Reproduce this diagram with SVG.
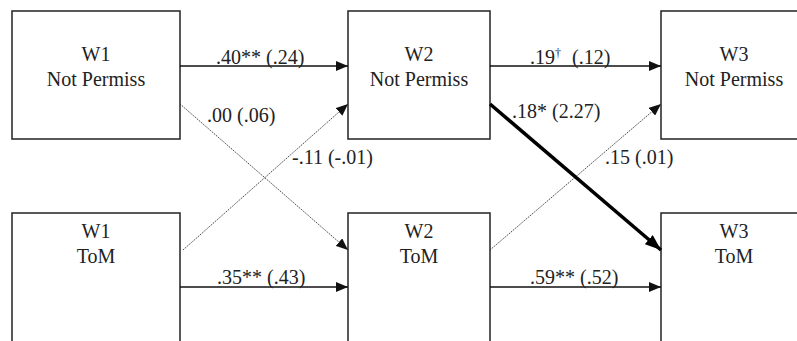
<svg xmlns="http://www.w3.org/2000/svg" width="797" height="341" viewBox="0 0 797 341">
<style>
.box{fill:#fff;stroke:#222;stroke-width:1.5}
.solid{stroke:#111;stroke-width:1.6;fill:none}
.thin{stroke:#333;stroke-width:0.9;stroke-dasharray:1.5 1;fill:none}
.thick{stroke:#000;stroke-width:3.5;fill:none}
</style>
<defs>
<marker id="ah" markerUnits="userSpaceOnUse" markerWidth="12" markerHeight="10" refX="12" refY="5" orient="auto">
<path d="M0,0 L12,5 L0,10 Z" fill="#111"/>
</marker>
<marker id="ahb" markerUnits="userSpaceOnUse" markerWidth="16" markerHeight="12" refX="16" refY="6" orient="auto">
<path d="M0,0 L16,6 L0,12 Z" fill="#000"/>
</marker>
</defs>
<rect width="797" height="341" fill="#fff"/>
<g id="w1np"><rect class="box" x="12" y="11" width="168" height="128"/><text font-family="Liberation Serif" font-size="20" fill="#222" text-anchor="middle" x="96" y="61">W1</text><text font-family="Liberation Serif" font-size="20" fill="#222" text-anchor="middle" x="96" y="86">Not Permiss</text></g>
<g id="w2np"><rect class="box" x="348" y="11" width="142" height="128"/><text font-family="Liberation Serif" font-size="20" fill="#222" text-anchor="middle" x="419" y="61">W2</text><text font-family="Liberation Serif" font-size="20" fill="#222" text-anchor="middle" x="419" y="86">Not Permiss</text></g>
<g id="w3np"><rect class="box" x="661" y="11" width="170" height="128"/><text font-family="Liberation Serif" font-size="20" fill="#222" text-anchor="middle" x="734" y="61">W3</text><text font-family="Liberation Serif" font-size="20" fill="#222" text-anchor="middle" x="734" y="86">Not Permiss</text></g>
<g id="w1tom"><rect class="box" x="12" y="213" width="168" height="150"/><text font-family="Liberation Serif" font-size="20" fill="#222" text-anchor="middle" x="96" y="238">W1</text><text font-family="Liberation Serif" font-size="20" fill="#222" text-anchor="middle" x="96" y="263">ToM</text></g>
<g id="w2tom"><rect class="box" x="348" y="213" width="142" height="150"/><text font-family="Liberation Serif" font-size="20" fill="#222" text-anchor="middle" x="419" y="238">W2</text><text font-family="Liberation Serif" font-size="20" fill="#222" text-anchor="middle" x="419" y="263">ToM</text></g>
<g id="w3tom"><rect class="box" x="661" y="213" width="170" height="150"/><text font-family="Liberation Serif" font-size="20" fill="#222" text-anchor="middle" x="734" y="238">W3</text><text font-family="Liberation Serif" font-size="20" fill="#222" text-anchor="middle" x="734" y="263">ToM</text></g>
<g id="connectors">
<line class="solid" x1="180" y1="66" x2="348" y2="66" marker-end="url(#ah)"/>
<line class="solid" x1="490" y1="66" x2="661" y2="66" marker-end="url(#ah)"/>
<line class="solid" x1="180" y1="287" x2="348" y2="287" marker-end="url(#ah)"/>
<line class="solid" x1="490" y1="287" x2="661" y2="287" marker-end="url(#ah)"/>
<line class="thin" x1="180" y1="104" x2="348" y2="250" marker-end="url(#ah)"/>
<line class="thin" x1="183" y1="250" x2="348" y2="104" marker-end="url(#ah)"/>
<line class="thin" x1="490" y1="250" x2="661" y2="104" marker-end="url(#ah)"/>
<line class="thick" x1="490" y1="104" x2="661" y2="250" marker-end="url(#ahb)"/>
<text font-family="Liberation Serif" font-size="20" fill="#222" x="216" y="64">.40** (.24)</text>
<text font-family="Liberation Serif" font-size="20" fill="#222" x="530" y="64">.19<tspan font-size="12" dy="-7">&#8224;</tspan></text>
<text font-family="Liberation Serif" font-size="20" fill="#222" x="572" y="64">(.12)</text>
<text font-family="Liberation Serif" font-size="20" fill="#222" x="207" y="122">.00 (.06)</text>
<text font-family="Liberation Serif" font-size="20" fill="#222" x="292" y="164">-.11 (-.01)</text>
<text font-family="Liberation Serif" font-size="20" fill="#222" x="512" y="118">.18* (2.27)</text>
<text font-family="Liberation Serif" font-size="20" fill="#222" x="605" y="164">.15 (.01)</text>
<text font-family="Liberation Serif" font-size="20" fill="#222" x="217" y="284">.35** (.43)</text>
<text font-family="Liberation Serif" font-size="20" fill="#222" x="530" y="284">.59** (.52)</text>
</g>
</svg>
